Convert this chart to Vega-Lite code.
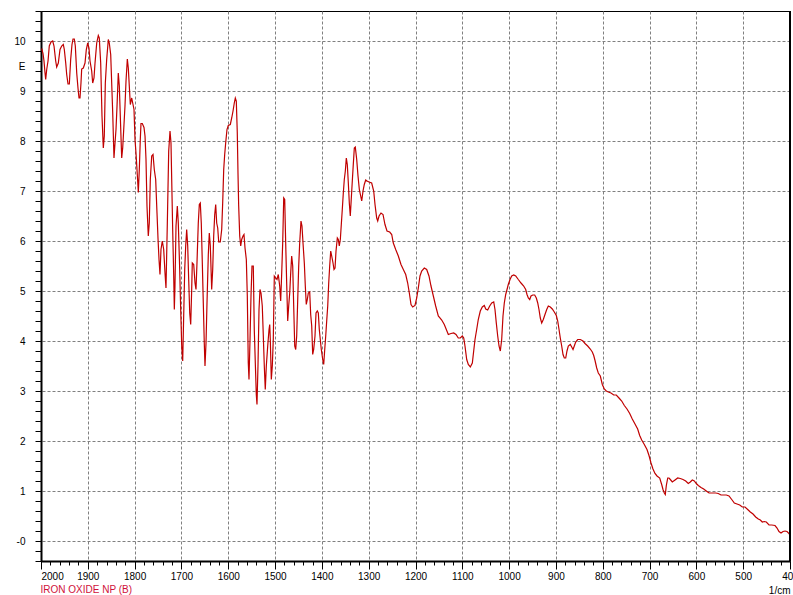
{
"$schema": "https://vega.github.io/schema/vega-lite/v6.json",
"width": 749, "height": 550,
"autosize": {"type": "none"},
"padding": {"left": 41, "top": 11, "right": 3, "bottom": 34},
"background": "white",
"config": {"view": {"stroke": "black", "strokeWidth": 1}, "font": "Liberation Sans"},
"data": {"values": [
{"x":1998.5,"y":9.85},{"x":1995.7,"y":9.75},{"x":1993.6,"y":9.60},{"x":1991.5,"y":9.37},{"x":1990.0,"y":9.23},{"x":1987.8,"y":9.43},{"x":1985.0,"y":9.60},{"x":1982.3,"y":9.90},{"x":1978.6,"y":9.98},{"x":1975.0,"y":10.00},
{"x":1972.2,"y":9.90},{"x":1968.6,"y":9.60},{"x":1966.5,"y":9.48},{"x":1963.0,"y":9.56},{"x":1959.4,"y":9.83},{"x":1955.8,"y":9.90},{"x":1952.4,"y":9.93},{"x":1950.2,"y":9.83},{"x":1947.2,"y":9.56},{"x":1945.1,"y":9.33},
{"x":1942.3,"y":9.14},{"x":1939.5,"y":9.14},{"x":1936.6,"y":9.63},{"x":1933.8,"y":9.93},{"x":1931.6,"y":10.04},{"x":1928.9,"y":10.04},{"x":1926.7,"y":9.90},{"x":1923.7,"y":9.36},{"x":1921.0,"y":9.06},{"x":1918.8,"y":8.86},
{"x":1916.7,"y":8.86},{"x":1914.6,"y":9.16},{"x":1913.1,"y":9.44},{"x":1909.6,"y":9.46},{"x":1906.0,"y":9.56},{"x":1903.2,"y":9.83},{"x":1900.2,"y":9.96},{"x":1897.5,"y":9.86},{"x":1895.3,"y":9.60},{"x":1891.7,"y":9.40},
{"x":1889.6,"y":9.16},{"x":1886.8,"y":9.26},{"x":1884.6,"y":9.56},{"x":1881.0,"y":9.96},{"x":1877.6,"y":10.11},{"x":1875.5,"y":10.06},{"x":1872.5,"y":9.56},{"x":1869.7,"y":8.50},{"x":1866.9,"y":7.86},{"x":1864.8,"y":8.10},
{"x":1862.6,"y":9.16},{"x":1859.7,"y":9.63},{"x":1856.2,"y":10.03},{"x":1854.1,"y":9.96},{"x":1851.1,"y":9.73},{"x":1849.0,"y":9.16},{"x":1846.8,"y":8.56},{"x":1844.1,"y":7.66},{"x":1841.9,"y":7.96},{"x":1839.8,"y":8.23},
{"x":1837.6,"y":8.70},{"x":1834.9,"y":9.36},{"x":1832.7,"y":9.10},{"x":1830.6,"y":8.50},{"x":1827.6,"y":7.66},{"x":1825.5,"y":7.86},{"x":1823.3,"y":8.23},{"x":1820.6,"y":8.70},{"x":1818.4,"y":9.20},{"x":1815.6,"y":9.64},
{"x":1813.5,"y":9.46},{"x":1811.4,"y":9.10},{"x":1809.2,"y":8.73},{"x":1806.2,"y":8.86},{"x":1804.1,"y":8.76},{"x":1801.3,"y":8.63},{"x":1799.2,"y":8.03},{"x":1797.1,"y":7.76},{"x":1794.3,"y":7.33},{"x":1792.1,"y":6.97},
{"x":1790.0,"y":7.43},{"x":1787.9,"y":8.03},{"x":1786.4,"y":8.35},{"x":1783.6,"y":8.35},{"x":1780.0,"y":8.27},{"x":1777.8,"y":8.10},{"x":1775.7,"y":7.63},{"x":1773.6,"y":6.70},{"x":1770.8,"y":6.10},{"x":1768.7,"y":6.36},
{"x":1766.5,"y":7.23},{"x":1763.5,"y":7.70},{"x":1760.7,"y":7.73},{"x":1758.0,"y":7.43},{"x":1755.0,"y":7.23},{"x":1752.2,"y":6.56},{"x":1750.1,"y":6.06},{"x":1747.9,"y":5.63},{"x":1745.8,"y":5.33},{"x":1743.7,"y":5.83},
{"x":1740.9,"y":6.00},{"x":1737.9,"y":5.83},{"x":1735.1,"y":5.36},{"x":1733.0,"y":5.06},{"x":1730.2,"y":6.33},{"x":1727.2,"y":7.80},{"x":1724.4,"y":8.20},{"x":1722.3,"y":7.96},{"x":1720.8,"y":7.23},{"x":1718.7,"y":6.23},
{"x":1716.5,"y":5.30},{"x":1715.2,"y":4.63},{"x":1713.8,"y":5.10},{"x":1711.6,"y":6.30},{"x":1708.8,"y":6.70},{"x":1706.7,"y":6.36},{"x":1703.7,"y":5.43},{"x":1701.6,"y":4.63},{"x":1699.4,"y":3.90},{"x":1697.3,"y":3.60},
{"x":1695.2,"y":4.50},{"x":1693.0,"y":5.43},{"x":1690.9,"y":5.90},{"x":1688.8,"y":6.23},{"x":1686.6,"y":5.90},{"x":1684.5,"y":5.23},{"x":1682.3,"y":4.56},{"x":1680.2,"y":4.33},{"x":1678.1,"y":5.03},{"x":1676.8,"y":5.56},
{"x":1673.8,"y":5.53},{"x":1671.0,"y":5.16},{"x":1668.9,"y":5.03},{"x":1666.8,"y":5.56},{"x":1664.0,"y":6.36},{"x":1661.8,"y":6.73},{"x":1659.7,"y":6.76},{"x":1657.6,"y":6.36},{"x":1655.4,"y":5.56},{"x":1653.3,"y":4.76},
{"x":1651.2,"y":3.96},{"x":1649.7,"y":3.50},{"x":1647.5,"y":3.96},{"x":1645.4,"y":4.76},{"x":1642.6,"y":5.73},{"x":1640.5,"y":6.16},{"x":1638.3,"y":5.90},{"x":1635.4,"y":5.03},{"x":1633.2,"y":5.43},{"x":1631.1,"y":6.10},
{"x":1628.9,"y":6.53},{"x":1626.8,"y":6.73},{"x":1624.7,"y":6.36},{"x":1622.5,"y":6.26},{"x":1620.4,"y":5.98},{"x":1617.0,"y":5.98},{"x":1614.0,"y":6.23},{"x":1611.9,"y":6.76},{"x":1609.7,"y":7.43},{"x":1607.6,"y":7.73},
{"x":1605.5,"y":7.96},{"x":1602.7,"y":8.23},{"x":1599.9,"y":8.31},{"x":1595.6,"y":8.33},{"x":1592.6,"y":8.46},{"x":1589.8,"y":8.60},{"x":1587.1,"y":8.76},{"x":1584.9,"y":8.86},{"x":1582.8,"y":8.80},{"x":1580.7,"y":8.16},
{"x":1579.2,"y":7.36},{"x":1577.7,"y":6.70},{"x":1575.5,"y":6.10},{"x":1573.4,"y":5.90},{"x":1571.3,"y":6.03},{"x":1568.5,"y":6.10},{"x":1566.4,"y":6.13},{"x":1564.2,"y":5.86},{"x":1561.4,"y":5.63},{"x":1559.3,"y":4.90},
{"x":1557.2,"y":3.56},{"x":1555.7,"y":3.23},{"x":1553.5,"y":4.03},{"x":1551.4,"y":4.90},{"x":1549.3,"y":5.50},{"x":1546.5,"y":5.50},{"x":1544.4,"y":4.23},{"x":1542.2,"y":3.56},{"x":1540.1,"y":2.93},{"x":1538.6,"y":2.73},
{"x":1536.5,"y":3.50},{"x":1534.3,"y":4.63},{"x":1532.2,"y":5.03},{"x":1530.0,"y":4.96},{"x":1527.3,"y":4.70},{"x":1525.1,"y":4.10},{"x":1523.0,"y":3.50},{"x":1520.9,"y":3.03},{"x":1518.7,"y":3.50},{"x":1515.7,"y":3.90},
{"x":1512.9,"y":4.23},{"x":1511.4,"y":4.33},{"x":1510.2,"y":4.03},{"x":1508.0,"y":3.23},{"x":1505.9,"y":3.50},{"x":1503.8,"y":4.03},{"x":1501.6,"y":5.30},{"x":1498.6,"y":5.26},{"x":1495.9,"y":5.23},{"x":1493.1,"y":5.33},
{"x":1490.1,"y":5.10},{"x":1488.0,"y":4.80},{"x":1485.8,"y":5.36},{"x":1483.7,"y":5.96},{"x":1481.5,"y":6.86},{"x":1479.4,"y":6.83},{"x":1477.3,"y":5.96},{"x":1475.1,"y":5.13},{"x":1473.0,"y":4.40},{"x":1470.9,"y":4.70},
{"x":1468.7,"y":4.96},{"x":1466.6,"y":5.36},{"x":1464.5,"y":5.70},{"x":1462.3,"y":5.50},{"x":1460.2,"y":4.70},{"x":1458.0,"y":3.90},{"x":1455.9,"y":3.83},{"x":1453.8,"y":4.10},{"x":1451.6,"y":4.83},{"x":1449.5,"y":5.50},
{"x":1447.4,"y":5.96},{"x":1444.6,"y":6.40},{"x":1442.5,"y":6.30},{"x":1440.3,"y":5.96},{"x":1437.5,"y":5.56},{"x":1435.4,"y":5.10},{"x":1433.3,"y":4.73},{"x":1431.1,"y":4.83},{"x":1429.0,"y":4.96},{"x":1426.0,"y":4.98},
{"x":1423.9,"y":4.53},{"x":1421.7,"y":4.30},{"x":1419.6,"y":3.73},{"x":1417.5,"y":3.83},{"x":1414.7,"y":4.10},{"x":1412.5,"y":4.56},{"x":1409.8,"y":4.60},{"x":1407.6,"y":4.56},{"x":1405.5,"y":4.23},{"x":1403.4,"y":4.03},
{"x":1401.2,"y":3.83},{"x":1398.2,"y":3.63},{"x":1396.1,"y":3.53},{"x":1393.9,"y":3.83},{"x":1391.8,"y":4.10},{"x":1389.7,"y":4.40},{"x":1387.5,"y":4.70},{"x":1385.4,"y":5.16},{"x":1383.3,"y":5.50},{"x":1381.1,"y":5.80},
{"x":1379.0,"y":5.70},{"x":1376.2,"y":5.56},{"x":1374.1,"y":5.43},{"x":1371.9,"y":5.46},{"x":1369.8,"y":5.80},{"x":1367.0,"y":6.06},{"x":1364.9,"y":6.03},{"x":1362.8,"y":5.90},{"x":1360.6,"y":6.03},{"x":1358.5,"y":6.33},
{"x":1356.4,"y":6.63},{"x":1354.2,"y":6.96},{"x":1352.1,"y":7.23},{"x":1349.9,"y":7.40},{"x":1347.8,"y":7.66},{"x":1345.7,"y":7.53},{"x":1343.5,"y":7.16},{"x":1341.4,"y":6.76},{"x":1339.3,"y":6.50},{"x":1337.1,"y":6.86},
{"x":1335.0,"y":7.20},{"x":1332.9,"y":7.53},{"x":1330.7,"y":7.86},{"x":1328.6,"y":7.88},{"x":1325.6,"y":7.63},{"x":1322.8,"y":7.30},{"x":1320.0,"y":7.03},{"x":1317.1,"y":6.90},{"x":1314.9,"y":6.80},{"x":1312.1,"y":7.00},
{"x":1309.4,"y":7.13},{"x":1306.4,"y":7.22},{"x":1303.6,"y":7.20},{"x":1299.3,"y":7.18},{"x":1293.6,"y":7.16},{"x":1289.3,"y":7.00},{"x":1286.5,"y":6.73},{"x":1282.9,"y":6.46},{"x":1280.7,"y":6.40},{"x":1277.9,"y":6.50},
{"x":1273.7,"y":6.56},{"x":1269.4,"y":6.53},{"x":1265.2,"y":6.33},{"x":1260.9,"y":6.20},{"x":1255.1,"y":6.18},{"x":1250.8,"y":6.13},{"x":1247.4,"y":5.96},{"x":1242.3,"y":5.83},{"x":1236.7,"y":5.70},{"x":1231.0,"y":5.53},
{"x":1226.0,"y":5.43},{"x":1220.9,"y":5.33},{"x":1216.7,"y":5.16},{"x":1213.2,"y":4.96},{"x":1209.6,"y":4.73},{"x":1206.0,"y":4.68},{"x":1201.1,"y":4.71},{"x":1197.4,"y":4.86},{"x":1194.0,"y":5.06},{"x":1190.4,"y":5.30},
{"x":1186.8,"y":5.40},{"x":1181.2,"y":5.46},{"x":1176.1,"y":5.43},{"x":1171.2,"y":5.30},{"x":1166.9,"y":5.10},{"x":1161.9,"y":4.90},{"x":1156.9,"y":4.70},{"x":1151.3,"y":4.50},{"x":1144.0,"y":4.42},{"x":1138.5,"y":4.33},
{"x":1134.2,"y":4.23},{"x":1129.9,"y":4.13},{"x":1124.2,"y":4.15},{"x":1118.4,"y":4.16},{"x":1113.5,"y":4.13},{"x":1108.6,"y":4.06},{"x":1104.3,"y":4.06},{"x":1100.0,"y":4.10},{"x":1097.0,"y":4.06},{"x":1094.3,"y":3.90},
{"x":1090.6,"y":3.63},{"x":1087.2,"y":3.53},{"x":1082.9,"y":3.48},{"x":1078.6,"y":3.56},{"x":1075.7,"y":3.80},{"x":1072.9,"y":4.03},{"x":1069.3,"y":4.23},{"x":1065.9,"y":4.43},{"x":1061.6,"y":4.60},{"x":1057.3,"y":4.68},
{"x":1053.0,"y":4.71},{"x":1050.0,"y":4.64},{"x":1045.8,"y":4.62},{"x":1041.5,"y":4.70},{"x":1037.2,"y":4.76},{"x":1032.9,"y":4.78},{"x":1030.2,"y":4.63},{"x":1027.4,"y":4.36},{"x":1024.4,"y":4.10},{"x":1021.6,"y":3.90},
{"x":1018.8,"y":3.80},{"x":1015.9,"y":4.03},{"x":1013.1,"y":4.50},{"x":1010.3,"y":4.76},{"x":1007.3,"y":4.93},{"x":1004.5,"y":5.03},{"x":1001.8,"y":5.13},{"x":998.1,"y":5.23},{"x":994.5,"y":5.30},{"x":990.2,"y":5.32},
{"x":985.9,"y":5.30},{"x":980.4,"y":5.23},{"x":974.6,"y":5.16},{"x":968.9,"y":5.10},{"x":964.6,"y":5.03},{"x":961.8,"y":4.93},{"x":959.0,"y":4.86},{"x":956.0,"y":4.83},{"x":953.3,"y":4.90},{"x":949.6,"y":4.92},
{"x":945.4,"y":4.92},{"x":941.9,"y":4.86},{"x":938.9,"y":4.76},{"x":936.2,"y":4.63},{"x":933.4,"y":4.46},{"x":930.4,"y":4.36},{"x":927.0,"y":4.43},{"x":923.4,"y":4.53},{"x":919.7,"y":4.63},{"x":916.3,"y":4.70},
{"x":912.0,"y":4.68},{"x":907.8,"y":4.64},{"x":903.5,"y":4.58},{"x":899.2,"y":4.51},{"x":896.2,"y":4.40},{"x":893.4,"y":4.23},{"x":890.7,"y":4.06},{"x":887.7,"y":3.90},{"x":884.9,"y":3.73},{"x":882.1,"y":3.66},
{"x":879.1,"y":3.66},{"x":876.4,"y":3.80},{"x":873.6,"y":3.90},{"x":869.3,"y":3.93},{"x":866.3,"y":3.88},{"x":863.5,"y":3.83},{"x":860.8,"y":3.90},{"x":857.8,"y":3.98},{"x":853.5,"y":4.03},{"x":847.9,"y":4.03},
{"x":842.2,"y":4.00},{"x":837.9,"y":3.95},{"x":832.2,"y":3.90},{"x":826.6,"y":3.84},{"x":822.3,"y":3.78},{"x":819.3,"y":3.71},{"x":816.5,"y":3.61},{"x":812.9,"y":3.46},{"x":809.5,"y":3.36},{"x":805.2,"y":3.30},
{"x":800.9,"y":3.13},{"x":796.7,"y":3.04},{"x":792.4,"y":3.00},{"x":788.1,"y":2.98},{"x":782.4,"y":2.96},{"x":776.6,"y":2.92},{"x":771.1,"y":2.92},{"x":765.3,"y":2.86},{"x":759.5,"y":2.80},{"x":753.9,"y":2.71},
{"x":748.2,"y":2.64},{"x":742.4,"y":2.55},{"x":736.9,"y":2.44},{"x":731.1,"y":2.34},{"x":725.4,"y":2.24},{"x":721.1,"y":2.11},{"x":716.8,"y":2.02},{"x":711.2,"y":1.93},{"x":705.5,"y":1.83},{"x":701.2,"y":1.71},
{"x":696.9,"y":1.56},{"x":692.7,"y":1.44},{"x":688.4,"y":1.35},{"x":684.1,"y":1.30},{"x":678.3,"y":1.26},{"x":674.1,"y":1.13},{"x":671.3,"y":1.03},{"x":668.5,"y":0.96},{"x":666.4,"y":0.93},{"x":664.2,"y":1.11},
{"x":661.2,"y":1.26},{"x":658.5,"y":1.26},{"x":655.7,"y":1.23},{"x":651.4,"y":1.18},{"x":645.6,"y":1.22},{"x":639.9,"y":1.26},{"x":634.3,"y":1.25},{"x":628.6,"y":1.23},{"x":622.8,"y":1.20},{"x":617.3,"y":1.15},
{"x":613.0,"y":1.18},{"x":608.7,"y":1.22},{"x":604.4,"y":1.20},{"x":600.2,"y":1.15},{"x":595.9,"y":1.11},{"x":590.1,"y":1.07},{"x":584.4,"y":1.04},{"x":578.8,"y":1.00},{"x":573.0,"y":0.96},{"x":566.0,"y":0.96},
{"x":558.7,"y":0.96},{"x":553.2,"y":0.95},{"x":547.4,"y":0.92},{"x":541.6,"y":0.92},{"x":536.1,"y":0.92},{"x":530.3,"y":0.90},{"x":524.5,"y":0.83},{"x":518.9,"y":0.76},{"x":513.2,"y":0.74},{"x":507.4,"y":0.72},
{"x":501.9,"y":0.68},{"x":496.1,"y":0.68},{"x":490.4,"y":0.63},{"x":484.8,"y":0.58},{"x":479.0,"y":0.54},{"x":473.3,"y":0.48},{"x":467.7,"y":0.44},{"x":463.4,"y":0.42},{"x":459.2,"y":0.38},{"x":454.9,"y":0.39},
{"x":450.6,"y":0.38},{"x":444.8,"y":0.32},{"x":439.1,"y":0.32},{"x":432.0,"y":0.31},{"x":427.7,"y":0.26},{"x":423.5,"y":0.19},{"x":419.2,"y":0.16},{"x":414.9,"y":0.19},{"x":410.6,"y":0.20},{"x":406.4,"y":0.19},
{"x":402.1,"y":0.15},{"x":400.0,"y":0.11}
]},
"resolve": {"axis": {"x": "independent"}},
"layer": [
{
"mark": {"type": "line", "color": "#c00000", "strokeWidth": 1.2, "clip": true},
"encoding": {
"x": {"field": "x", "type": "quantitative",
 "scale": {"domain": [400, 2000], "reverse": true, "nice": false, "zero": false},
 "axis": {
  "values": [400,420,440,460,480,500,520,540,560,580,600,620,640,660,680,700,720,740,760,780,800,820,840,860,880,900,920,940,960,980,1000,1020,1040,1060,1080,1100,1120,1140,1160,1180,1200,1220,1240,1260,1280,1300,1320,1340,1360,1380,1400,1420,1440,1460,1480,1500,1520,1540,1560,1580,1600,1620,1640,1660,1680,1700,1720,1740,1760,1780,1800,1820,1840,1860,1880,1900,1920,1940,1960,1980,2000],
  "labelExpr": "datum.value % 100 == 0 ? format(datum.value, 'd') : ''",
  "labelOverlap": false, "labelBound": false, "labelFlush": false,
  "labelAlign": {"condition": {"test": "datum.value == 2000", "value": "left"}, "value": "center"},
  "labelFont": "Liberation Sans", "labelFontSize": 10, "labelColor": "black", "labelPadding": 2,
  "grid": true, "gridColor": "#808080", "gridDash": [3, 2], "gridWidth": 1,
  "gridOpacity": {"condition": {"test": "datum.value % 100 == 0 && datum.value > 400 && datum.value < 2000", "value": 1}, "value": 0},
  "tickColor": "black", "tickWidth": 1,
  "tickSize": {"condition": {"test": "datum.value % 100 == 0", "value": 8}, "value": 4},
  "domainColor": "black", "domainWidth": 2,
  "title": "IRON OXIDE NP (B)", "titleX": -1, "titleY": 33, "titleAlign": "left", "titleBaseline": "bottom",
  "titleColor": "#d0103a", "titleFont": "Liberation Sans", "titleFontSize": 10, "titleFontWeight": "normal"
 }},
"y": {"field": "y", "type": "quantitative",
 "scale": {"domain": [-0.4, 10.6], "nice": false, "zero": false},
 "axis": {
  "values": [-0.4,-0.2,0,0.2,0.4,0.6,0.8,1,1.2,1.4,1.6,1.8,2,2.2,2.4,2.6,2.8,3,3.2,3.4,3.6,3.8,4,4.2,4.4,4.6,4.8,5,5.2,5.4,5.6,5.8,6,6.2,6.4,6.6,6.8,7,7.2,7.4,7.6,7.8,8,8.2,8.4,8.6,8.8,9,9.2,9.4,9.5,9.6,9.8,10,10.2,10.4,10.6],
  "labelExpr": "abs(datum.value - 9.5) < 0.001 ? 'E' : (abs(datum.value) < 0.001 ? '-0' : (abs(datum.value - round(datum.value)) < 0.001 ? format(datum.value, 'd') : ''))",
  "labelOverlap": false, "labelBound": false, "labelFlush": false,
  "labelFont": "Liberation Sans", "labelFontSize": 10, "labelColor": "black", "labelPadding": 10,
  "grid": true, "gridColor": "#808080", "gridDash": [3, 2], "gridWidth": 1,
  "gridOpacity": {"condition": {"test": "abs(datum.value - round(datum.value)) < 0.001", "value": 1}, "value": 0},
  "tickColor": "black", "tickWidth": 1, "tickSize": 6,
  "tickOpacity": {"condition": {"test": "abs(datum.value - 9.5) < 0.001", "value": 0}, "value": 1},
  "domainColor": "black", "domainWidth": 2,
  "title": null
 }}
}
},
{
"data": {"values": [{}]},
"mark": {"type": "rule", "color": "black", "strokeWidth": 2},
"encoding": {
"x": {"datum": 400, "type": "quantitative",
 "axis": {"orient": "top", "domain": false, "ticks": false, "labels": false, "grid": false,
  "title": "1/cm", "titleX": 749, "titleY": 584, "titleAlign": "right", "titleBaseline": "bottom",
  "titleColor": "black", "titleFont": "Liberation Sans", "titleFontSize": 10, "titleFontWeight": "normal"}}
}
}
]
}
